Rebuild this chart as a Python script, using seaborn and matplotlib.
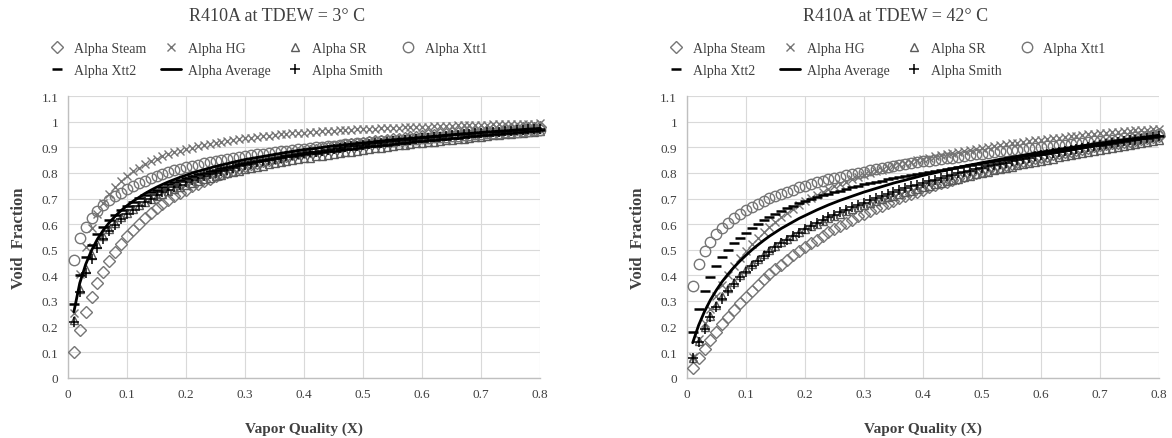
"""Void fraction vs vapor quality for R410A at two dew temperatures."""
import matplotlib
matplotlib.use("Agg")
import matplotlib.pyplot as plt
from matplotlib.lines import Line2D
import seaborn as sns

# vapor quality (X) sampled in the chart
quality = [
    0.01, 0.02, 0.03, 0.04, 0.05, 0.06, 0.07, 0.08, 0.09, 0.10,
    0.11, 0.12, 0.13, 0.14, 0.15, 0.16, 0.17, 0.18, 0.19, 0.20,
    0.21, 0.22, 0.23, 0.24, 0.25, 0.26, 0.27, 0.28, 0.29, 0.30,
    0.31, 0.32, 0.33, 0.34, 0.35, 0.36, 0.37, 0.38, 0.39, 0.40,
    0.41, 0.42, 0.43, 0.44, 0.45, 0.46, 0.47, 0.48, 0.49, 0.50,
    0.51, 0.52, 0.53, 0.54, 0.55, 0.56, 0.57, 0.58, 0.59, 0.60,
    0.61, 0.62, 0.63, 0.64, 0.65, 0.66, 0.67, 0.68, 0.69, 0.70,
    0.71, 0.72, 0.73, 0.74, 0.75, 0.76, 0.77, 0.78, 0.79, 0.80,
]

# ---- TDEW = 3 C ----
steam_3 = [
    .101, .185, .256, .316, .369, .415, .455, .491, .524, .552,
    .579, .602, .624, .644, .662, .679, .695, .709, .723, .735,
    .747, .758, .768, .778, .787, .796, .804, .812, .819, .826,
    .833, .839, .845, .851, .857, .862, .867, .872, .877, .881,
    .885, .889, .893, .897, .901, .904, .908, .911, .914, .917,
    .920, .923, .926, .929, .931, .934, .936, .939, .941, .943,
    .946, .948, .950, .952, .954, .956, .958, .959, .961, .963,
    .965, .966, .968, .970, .971, .973, .974, .976, .977, .978,
]
hg_3 = [
    .253, .407, .509, .583, .639, .682, .716, .745, .769, .789,
    .806, .821, .834, .845, .856, .865, .873, .881, .887, .894,
    .899, .905, .909, .914, .918, .922, .925, .929, .932, .935,
    .938, .940, .943, .945, .947, .950, .952, .954, .955, .957,
    .959, .960, .962, .963, .965, .966, .967, .969, .970, .971,
    .972, .973, .974, .975, .976, .977, .978, .979, .980, .981,
    .981, .982, .983, .984, .984, .985, .986, .986, .987, .987,
    .988, .989, .989, .990, .990, .991, .991, .992, .992, .993,
]
sr_3 = [
    .227, .348, .425, .480, .521, .555, .582, .606, .626, .644,
    .659, .673, .686, .698, .709, .719, .728, .737, .745, .754,
    .761, .768, .775, .781, .787, .793, .799, .804, .809, .814,
    .819, .824, .828, .833, .837, .841, .845, .849, .853, .857,
    .860, .864, .867, .871, .874, .877, .880, .883, .886, .890,
    .893, .896, .899, .902, .904, .907, .909, .912, .915, .917,
    .920, .922, .925, .927, .930, .932, .934, .937, .939, .941,
    .944, .946, .948, .950, .952, .954, .956, .958, .961, .963,
]
xtt1_3 = [
    .460, .545, .590, .625, .652, .674, .693, .709, .723, .736,
    .748, .759, .769, .779, .788, .796, .803, .810, .816, .822,
    .827, .832, .837, .842, .847, .851, .855, .859, .863, .866,
    .869, .872, .875, .878, .881, .884, .887, .890, .892, .895,
    .897, .900, .902, .904, .906, .908, .911, .913, .915, .917,
    .919, .921, .923, .925, .926, .928, .930, .932, .933, .935,
    .937, .939, .940, .942, .944, .945, .947, .949, .950, .952,
    .954, .955, .957, .958, .960, .961, .963, .964, .966, .967,
]
xtt2_3 = [
    .290, .400, .470, .520, .560, .590, .615, .637, .656, .672,
    .687, .701, .714, .725, .735, .745, .755, .764, .772, .780,
    .787, .794, .800, .806, .812, .818, .823, .828, .833, .838,
    .842, .846, .850, .854, .857, .861, .864, .867, .870, .873,
    .876, .879, .882, .884, .887, .890, .892, .895, .897, .900,
    .903, .905, .908, .910, .913, .915, .918, .920, .923, .925,
    .927, .929, .932, .934, .936, .938, .941, .943, .945, .947,
    .949, .951, .953, .955, .957, .959, .961, .963, .965, .967,
]
average_3 = [
    .258, .370, .443, .498, .542, .577, .606, .631, .653, .672,
    .689, .704, .719, .732, .744, .755, .765, .774, .783, .791,
    .799, .806, .812, .819, .825, .831, .836, .842, .847, .852,
    .856, .860, .864, .868, .872, .876, .880, .883, .887, .890,
    .893, .896, .899, .902, .905, .907, .910, .912, .915, .917,
    .919, .922, .924, .927, .929, .931, .933, .935, .937, .939,
    .941, .943, .945, .947, .949, .951, .953, .954, .956, .958,
    .960, .961, .963, .964, .966, .968, .969, .971, .972, .974,
]
smith_3 = [
    .219, .334, .410, .465, .508, .543, .572, .597, .619, .639,
    .656, .672, .686, .700, .713, .724, .735, .745, .754, .763,
    .771, .779, .787, .794, .801, .807, .813, .819, .825, .831,
    .836, .841, .846, .851, .855, .860, .864, .868, .872, .876,
    .880, .883, .887, .890, .894, .897, .900, .903, .906, .909,
    .912, .915, .917, .920, .923, .925, .928, .930, .932, .935,
    .937, .939, .942, .944, .946, .948, .950, .952, .954, .956,
    .958, .959, .961, .963, .965, .966, .968, .970, .971, .973,
]

# ---- TDEW = 42 C ----
steam_42 = [
    .040, .078, .114, .148, .180, .210, .239, .266, .292, .316,
    .340, .362, .384, .404, .424, .442, .460, .478, .494, .510,
    .526, .540, .554, .568, .581, .594, .606, .618, .630, .641,
    .652, .662, .672, .682, .692, .701, .710, .719, .727, .735,
    .743, .751, .759, .766, .773, .780, .787, .794, .800, .806,
    .813, .819, .824, .830, .836, .841, .847, .852, .857, .862,
    .867, .872, .877, .881, .886, .890, .894, .898, .903, .907,
    .911, .915, .918, .922, .926, .930, .933, .937, .940, .943,
]
hg_42 = [
    .082, .153, .215, .269, .318, .361, .400, .435, .467, .496,
    .522, .547, .569, .590, .610, .628, .644, .660, .675, .689,
    .702, .714, .726, .736, .747, .757, .766, .775, .783, .791,
    .799, .806, .813, .820, .827, .833, .839, .844, .850, .855,
    .860, .865, .870, .874, .879, .883, .887, .891, .895, .898,
    .902, .906, .909, .912, .915, .918, .921, .924, .927, .930,
    .933, .935, .938, .940, .943, .945, .947, .950, .952, .954,
    .956, .958, .960, .962, .964, .966, .967, .969, .971, .973,
]
sr_42 = [
    .079, .144, .198, .243, .283, .318, .349, .376, .401, .424,
    .445, .464, .482, .499, .514, .529, .542, .555, .568, .580,
    .591, .602, .612, .622, .632, .641, .650, .658, .666, .674,
    .682, .690, .697, .704, .711, .718, .725, .731, .737, .744,
    .750, .755, .761, .767, .773, .778, .784, .789, .794, .800,
    .805, .810, .815, .820, .824, .829, .834, .838, .843, .848,
    .852, .856, .861, .865, .869, .873, .878, .882, .886, .890,
    .894, .898, .902, .906, .910, .914, .918, .921, .925, .929,
]
xtt1_42 = [
    .360, .445, .495, .530, .560, .585, .605, .623, .640, .654,
    .667, .680, .691, .701, .710, .719, .727, .735, .743, .750,
    .757, .763, .769, .775, .780, .785, .790, .795, .800, .805,
    .810, .814, .818, .822, .826, .830, .834, .838, .841, .845,
    .848, .851, .854, .857, .860, .863, .866, .869, .872, .875,
    .878, .881, .884, .886, .889, .891, .893, .896, .898, .900,
    .903, .905, .908, .910, .913, .915, .918, .920, .923, .925,
    .928, .930, .933, .935, .938, .940, .943, .945, .948, .950,
]
xtt2_42 = [
    .180, .270, .340, .395, .435, .470, .500, .525, .545, .565,
    .583, .600, .615, .628, .640, .651, .662, .672, .681, .690,
    .698, .706, .713, .719, .725, .731, .737, .743, .749, .755,
    .760, .765, .770, .775, .780, .785, .789, .793, .797, .800,
    .804, .808, .812, .816, .820, .824, .828, .832, .836, .840,
    .844, .848, .851, .855, .858, .862, .865, .869, .872, .875,
    .879, .882, .886, .889, .893, .896, .900, .903, .907, .910,
    .914, .917, .921, .924, .928, .931, .935, .938, .942, .945,
]
average_42 = [
    .137, .205, .259, .304, .342, .376, .405, .432, .456, .478,
    .499, .518, .536, .553, .568, .583, .596, .609, .622, .633,
    .644, .655, .665, .675, .684, .693, .701, .709, .717, .725,
    .732, .739, .746, .753, .760, .766, .772, .778, .784, .790,
    .795, .800, .806, .811, .816, .821, .826, .831, .835, .840,
    .844, .848, .853, .857, .861, .865, .869, .873, .877, .881,
    .884, .888, .892, .895, .899, .902, .906, .909, .913, .916,
    .919, .923, .926, .929, .932, .935, .938, .941, .944, .947,
]
smith_42 = [
    .078, .141, .192, .236, .275, .309, .339, .367, .392, .415,
    .436, .456, .475, .492, .509, .525, .539, .553, .567, .580,
    .592, .604, .615, .626, .637, .647, .657, .666, .675, .684,
    .693, .701, .709, .717, .725, .733, .740, .747, .754, .761,
    .767, .773, .780, .786, .792, .798, .803, .809, .814, .819,
    .825, .830, .835, .840, .846, .851, .855, .860, .864, .868,
    .873, .877, .881, .886, .890, .894, .898, .901, .905, .909,
    .913, .916, .920, .924, .927, .930, .934, .937, .940, .943,
]

x_ticks = [0, 0.1, 0.2, 0.3, 0.4, 0.5, 0.6, 0.7, 0.8]
x_ticklabels = ["0", "0.1", "0.2", "0.3", "0.4", "0.5", "0.6", "0.7", "0.8"]
y_ticks = [0, 0.1, 0.2, 0.3, 0.4, 0.5, 0.6, 0.7, 0.8, 0.9, 1.0, 1.1]
y_ticklabels = ["0", "0.1", "0.2", "0.3", "0.4", "0.5", "0.6", "0.7", "0.8", "0.9", "1", "1.1"]

GREY = "#757575"
STYLES = {
    "Alpha Steam": dict(marker="D", markersize=6.5, markerfacecolor="none",
                        markeredgecolor=GREY, markeredgewidth=1.0, linestyle=""),
    "Alpha HG": dict(marker="x", markersize=6, markeredgecolor=GREY,
                     markeredgewidth=1.0, linestyle=""),
    "Alpha SR": dict(marker="^", markersize=6, markerfacecolor="none",
                     markeredgecolor="#5a5a5a", markeredgewidth=1.0, linestyle=""),
    "Alpha Xtt1": dict(marker="o", markersize=7.5, markerfacecolor="none",
                       markeredgecolor=GREY, markeredgewidth=1.0, linestyle=""),
    "Alpha Xtt2": dict(marker="_", markersize=7, markeredgecolor="black",
                       markeredgewidth=1.8, linestyle=""),
    "Alpha Average": dict(marker="", color="black", linewidth=2.0, linestyle="-"),
    "Alpha Smith": dict(marker="+", markersize=6.5, markeredgecolor="black",
                        markeredgewidth=1.1, linestyle=""),
}
# column-major order so the 4-column legend reads row by row
LEGEND_ORDER = ["Alpha Steam", "Alpha Xtt2", "Alpha HG", "Alpha Average",
                "Alpha SR", "Alpha Smith", "Alpha Xtt1"]

sns.set_theme(style="white")
plt.rcParams["font.family"] = ["Liberation Serif", "DejaVu Serif"]


def draw_panel(ax, series, title_x, title):
    for name, values in series.items():
        sns.lineplot(x=quality, y=values, ax=ax, clip_on=False, zorder=3,
                     **STYLES[name])

    ax.set_xlim(0, 0.8)
    ax.set_ylim(0, 1.1)
    ax.set_xticks(x_ticks, x_ticklabels)
    ax.set_yticks(y_ticks, y_ticklabels)
    ax.tick_params(length=0, labelsize=9.5, colors="#404040", pad=7)
    ax.grid(True, color="#d9d9d9", linewidth=0.8)
    for side in ["top", "right"]:
        ax.spines[side].set_visible(False)
    for side in ["left", "bottom"]:
        ax.spines[side].set_color("#bfbfbf")
        ax.spines[side].set_linewidth(1.0)
    ax.set_xlabel("Vapor Quality (X)", fontsize=11, fontweight="bold",
                  color="#404040", labelpad=16)
    ax.set_ylabel("Void  Fraction", fontsize=12, fontweight="bold",
                  color="#404040", labelpad=10)

    handles = [Line2D([], [], **STYLES[n]) for n in LEGEND_ORDER]
    leg = ax.legend(handles, LEGEND_ORDER, ncol=4, loc="upper left",
                    bbox_to_anchor=(-0.07, 1.235), frameon=False, fontsize=10,
                    handlelength=1.4, handletextpad=0.5, columnspacing=1.1,
                    labelspacing=0.6)
    for t in leg.get_texts():
        t.set_color("#404040")

    ax.figure.text(title_x, 0.963, title, ha="center", va="center",
                   fontsize=13, color="#404040")


fig = plt.figure(figsize=(11.72, 4.39), dpi=100)
ax_left = fig.add_axes([0.058, 0.137, 0.403, 0.642])
ax_right = fig.add_axes([0.586, 0.137, 0.403, 0.642])

draw_panel(ax_left, {
    "Alpha Steam": steam_3, "Alpha HG": hg_3, "Alpha SR": sr_3,
    "Alpha Xtt1": xtt1_3, "Alpha Xtt2": xtt2_3, "Alpha Smith": smith_3,
    "Alpha Average": average_3,
}, 0.236, "R410A at TDEW = 3° C")

draw_panel(ax_right, {
    "Alpha Steam": steam_42, "Alpha HG": hg_42, "Alpha SR": sr_42,
    "Alpha Xtt1": xtt1_42, "Alpha Xtt2": xtt2_42, "Alpha Smith": smith_42,
    "Alpha Average": average_42,
}, 0.764, "R410A at TDEW = 42° C")

fig.savefig("out.png", dpi=100)
